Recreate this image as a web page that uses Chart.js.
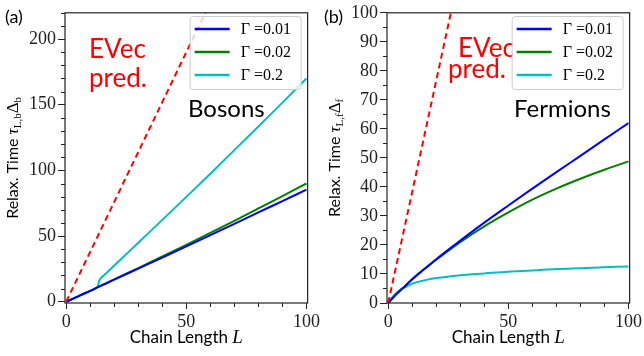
<!DOCTYPE html>
<html><head><meta charset="utf-8">
<script src="https://cdn.jsdelivr.net/npm/chart.js@4/dist/chart.umd.min.js"></script>
<style>
html,body{margin:0;padding:0;background:#fff;overflow:hidden}
#wrap{display:flex;width:644px;height:356px}
canvas{display:block}
</style></head><body>
<div id="wrap"><canvas id="ca" width="322" height="356"></canvas><canvas id="cb" width="322" height="356"></canvas></div>
<script>
// ---------- data ----------
const seriesLabels = ['Γ =0.01', 'Γ =0.02', 'Γ =0.2'];
const seriesColors = ['#0000ff', '#008000', '#00bfbf'];

// Bosons panel (a)
const evecL_b = [0, 60];
const evec_b = [0, 228];
const bosL = [0, 2, 5, 8, 10, 12, 13, 20, 30, 40, 50, 60, 70, 80, 90, 100];
const bos01 = [0, 1.6, 4.1, 6.6, 8.3, 10, 10.9, 16.8, 25.2, 33.6, 42.1, 50.7, 59.3, 68, 76.6, 85.3];
const bos02 = [0, 1.6, 4.1, 6.6, 8.3, 10, 10.9, 17, 25.6, 34.4, 43.3, 52.4, 61.6, 71, 80.4, 90];
const bosL2 = [0, 2, 5, 8, 10, 12, 13, 13.4, 13.8, 14.5, 16, 20, 30, 40, 50, 60, 70, 80, 90, 100];
const bos2 = [0, 1.6, 4.1, 6.6, 8.3, 10, 11.2, 13.5, 16, 18.2, 20.6, 27.5, 44.9, 62.3, 79.8, 97.5, 115.4, 133.4, 151.6, 170];

// Fermions panel (b)
const evecL_f = [0, 30];
const evec_f = [0, 115];
const ferL = [0, 1, 2, 3, 5, 7, 10, 15, 20, 30, 40, 50, 60, 70, 80, 90, 100];
const fer01 = [0, 0.9, 1.8, 2.7, 4.3, 5.8, 8.2, 11.7, 15.1, 21.5, 27.7, 33.6, 39.4, 45.1, 50.7, 56.4, 62];
const fer02 = [0, 0.9, 1.8, 2.7, 4.3, 5.8, 8.2, 11.6, 14.9, 21, 26.4, 31.2, 35.6, 39.4, 42.8, 45.9, 48.8];
const fer2 = [0, 1.2, 2.3, 3.2, 4.5, 5.4, 6.7, 7.8, 8.6, 9.6, 10.2, 10.8, 11.2, 11.7, 12, 12.3, 12.6];

const xTicksMajor = [0, 50, 100];
const xTicksMinor = [10, 20, 30, 40, 60, 70, 80, 90];
const yTicksMajor_b = [0, 50, 100, 150, 200];
const yTicksMinor_b = [10, 20, 30, 40, 60, 70, 80, 90, 110, 120, 130, 140, 160, 170, 180, 190, 210, 220];
const yTicksMajor_f = [0, 10, 20, 30, 40, 50, 60, 70, 80, 90, 100];
const yTicksMinor_f = [5, 15, 25, 35, 45, 55, 65, 75, 85, 95];

// ---------- helpers ----------
const pts = (xs, ys) => xs.map((x, i) => ({x: x, y: ys[i]}));
const SANS = 'Lato, "DejaVu Sans", sans-serif';
const SERIF = '"Liberation Serif", "DejaVu Serif", serif';

function drawRuns(ctx, runs, x, y, align) {
  let total = 0;
  runs.forEach(r => { ctx.font = r.font; r.w = ctx.measureText(r.t).width; total += r.w; });
  let cx = align === 'center' ? x - total / 2 : x;
  ctx.textAlign = 'left';
  ctx.textBaseline = 'alphabetic';
  runs.forEach(r => { ctx.font = r.font; ctx.fillText(r.t, cx, y + (r.dy || 0)); cx += r.w; });
}

const deco = {
  id: 'deco',
  afterDatasetsDraw(chart, args, o) {
    const ctx = chart.ctx, a = chart.chartArea;
    const xs = chart.scales.x, ys = chart.scales.y;
    ctx.save();
    // frame
    ctx.strokeStyle = '#222'; ctx.lineWidth = 1.2;
    ctx.strokeRect(a.left, a.top, a.right - a.left, a.bottom - a.top);
    // minor ticks
    ctx.lineWidth = 1;
    o.yMinor.forEach(v => { const p = Math.round(ys.getPixelForValue(v)) + 0.5; ctx.beginPath(); ctx.moveTo(a.left - 4, p); ctx.lineTo(a.left, p); ctx.stroke(); });
    o.xMinor.forEach(v => { const p = Math.round(xs.getPixelForValue(v)) + 0.5; ctx.beginPath(); ctx.moveTo(p, a.bottom); ctx.lineTo(p, a.bottom + 4); ctx.stroke(); });
    // annotations
    ctx.fillStyle = '#ff0000';
    ctx.font = '26px ' + SANS; ctx.textAlign = 'left'; ctx.textBaseline = 'alphabetic';
    ctx.fillText('EVec', o.evec[0], o.evec[1]);
    ctx.fillText('pred.', o.pred[0], o.pred[1]);
    ctx.fillStyle = '#000';
    ctx.font = '24px ' + SANS;
    ctx.fillText(o.name, o.namePos[0], o.namePos[1]);
    ctx.font = '18px ' + SANS;
    ctx.fillText(o.panel, o.panelPos[0], o.panelPos[1]);
    // x title
    ctx.fillStyle = '#000';
    drawRuns(ctx, [{t: 'Chain Length ', font: '17px ' + SANS}, {t: 'L', font: 'italic 19px ' + SERIF}], (a.left + a.right) / 2, 343, 'center');
    // y title (rotated)
    ctx.save();
    ctx.translate(o.yTitleX, (a.top + a.bottom) / 2);
    ctx.rotate(-Math.PI / 2);
    drawRuns(ctx, [
      {t: 'Relax. Time ', font: '16px ' + SANS},
      {t: 'τ', font: 'italic 17px ' + SERIF},
      {t: o.sub1, font: '11px ' + SERIF, dy: 3},
      {t: 'Δ', font: '17px ' + SERIF},
      {t: o.sub2, font: '11px ' + SERIF, dy: 3}
    ], 0, 0, 'center');
    ctx.restore();
    // legend
    const bl = a.right - 118, bt = 16, bw = 111, bh = 73;
    ctx.beginPath();
    if (ctx.roundRect) ctx.roundRect(bl + 0.5, bt + 0.5, bw, bh, 3); else ctx.rect(bl + 0.5, bt + 0.5, bw, bh);
    ctx.fillStyle = 'rgba(255,255,255,0.8)'; ctx.fill();
    ctx.strokeStyle = '#cccccc'; ctx.lineWidth = 1; ctx.stroke();
    const rows = [29, 52, 75];
    chart.data.datasets.filter(d => d.inLegend).forEach((d, i) => {
      ctx.strokeStyle = d.borderColor; ctx.lineWidth = 2.5; ctx.setLineDash([]);
      ctx.beginPath(); ctx.moveTo(a.right - 113, rows[i]); ctx.lineTo(a.right - 78, rows[i]); ctx.stroke();
      ctx.fillStyle = '#000'; ctx.font = '16px ' + SERIF; ctx.textBaseline = 'middle';
      ctx.fillText(d.label, a.right - 67, rows[i] + 1);
    });
    ctx.restore();
  }
};

function makeChart(id, cfg) {
  const ds = [
    {label: 'EVec pred.', data: pts(cfg.evecL, cfg.evec), borderColor: '#ff0000', borderWidth: 2, borderDash: [6, 4], inLegend: false},
    {label: seriesLabels[0], data: pts(cfg.L1, cfg.s1), borderColor: seriesColors[0], borderWidth: 2, inLegend: true},
    {label: seriesLabels[1], data: pts(cfg.L1, cfg.s2), borderColor: seriesColors[1], borderWidth: 2, inLegend: true},
    {label: seriesLabels[2], data: pts(cfg.L2, cfg.s3), borderColor: seriesColors[2], borderWidth: 2, inLegend: true}
  ];
  ds.forEach(d => { d.pointRadius = 0; d.fill = false; d.cubicInterpolationMode = 'monotone'; });
  return new Chart(document.getElementById(id), {
    type: 'line',
    data: {datasets: ds},
    options: {
      responsive: false, animation: false, devicePixelRatio: 1,
      layout: {padding: {left: 0, right: 12, top: cfg.top, bottom: 0}},
      plugins: {legend: {display: false}, tooltip: {enabled: false}, deco: cfg.deco},
      scales: {
        x: {type: 'linear', min: -0.5, max: 100.5,
          afterFit: s => { s.height = 356 - 303; },
          afterBuildTicks: s => { s.ticks = xTicksMajor.map(v => ({value: v})); },
          ticks: {font: {family: SERIF, size: 18}, color: '#222', padding: 2, maxRotation: 0},
          grid: {drawOnChartArea: false, tickLength: 6, color: '#222'},
          border: {display: false}},
        y: {type: 'linear', min: cfg.ymin, max: cfg.ymax,
          afterFit: s => { s.width = 65; },
          afterBuildTicks: s => { s.ticks = cfg.yMajor.map(v => ({value: v})); },
          ticks: {font: {family: SERIF, size: 18}, color: '#222', padding: 2},
          grid: {drawOnChartArea: false, tickLength: 7, color: '#222'},
          border: {display: false}}
      }
    },
    plugins: [deco]
  });
}

makeChart('ca', {
  evecL: evecL_b, evec: evec_b, L1: bosL, s1: bos01, s2: bos02, L2: bosL2, s3: bos2,
  ymin: -1, ymax: 220, top: 7, yMajor: yTicksMajor_b,
  deco: {yMinor: yTicksMinor_b, xMinor: xTicksMinor, evec: [89, 58], pred: [89, 87], name: 'Bosons', namePos: [188, 117],
    panel: '(a)', panelPos: [5, 23], yTitleX: 18, sub1: 'L,b', sub2: 'b'}
});
makeChart('cb', {
  evecL: evecL_f, evec: evec_f, L1: ferL, s1: fer01, s2: fer02, L2: ferL, s3: fer2,
  ymin: 0, ymax: 100, top: 8, yMajor: yTicksMajor_f,
  deco: {yMinor: yTicksMinor_f, xMinor: xTicksMinor, evec: [136, 57], pred: [126, 78], name: 'Fermions', namePos: [192, 117],
    panel: '(b)', panelPos: [2, 23], yTitleX: 18, sub1: 'L,f', sub2: 'f'}
});
</script>
</body></html>
